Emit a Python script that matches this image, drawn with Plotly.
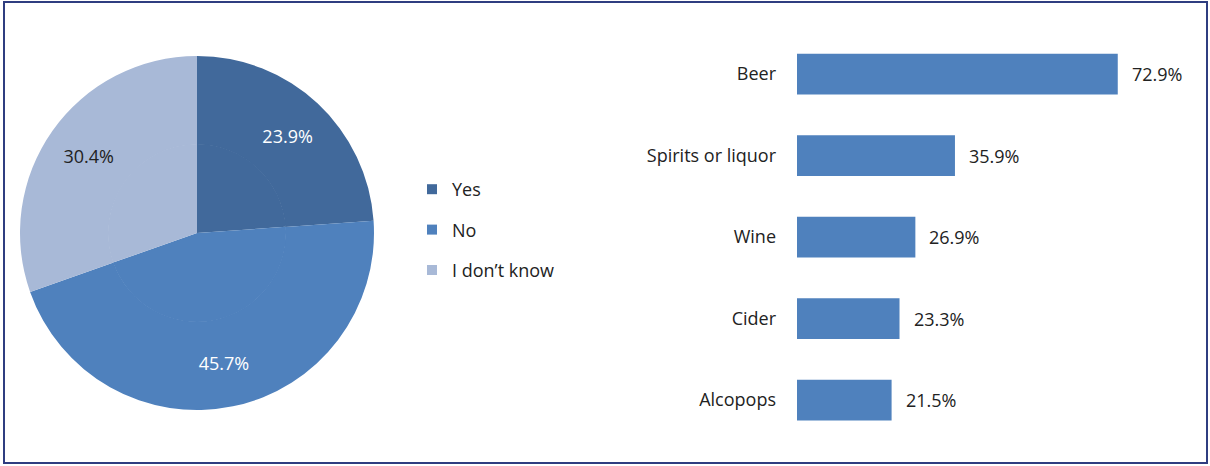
import plotly.graph_objects as go

# Pie data
pie_labels = ["Yes", "No", "I don\u2019t know"]
pie_values = [23.9, 45.7, 30.4]
pie_colors = ["#41699B", "#4F81BD", "#A8B9D7"]
pie_text_colors = ["white", "white", "#222222"]

# Bar data
bar_categories = ["Beer", "Spirits or liquor", "Wine", "Cider", "Alcopops"]
bar_values = [72.9, 35.9, 26.9, 23.3, 21.5]
bar_color = "#4F81BD"

W, H = 1210, 466
FONT = "Open Sans"
FS = 18
TXT = "#222222"

fig = go.Figure()

pie_dom = dict(x=[20 / W, 374 / W], y=[56 / H, 410 / H])
# outer ring carries the labels (placed further out, like the original)
fig.add_trace(go.Pie(
    labels=pie_labels, values=pie_values, sort=False,
    direction="clockwise", rotation=0, hole=0.5,
    marker=dict(colors=pie_colors, line=dict(width=0)),
    texttemplate="%{value:.1f}%", textposition="inside",
    insidetextorientation="horizontal",
    textfont=dict(family=FONT, size=FS, color=pie_text_colors),
    domain=pie_dom, showlegend=False, hoverinfo="label+value",
))
# inner disc fills the hole with the same slices
fig.add_trace(go.Pie(
    labels=pie_labels, values=pie_values, sort=False,
    direction="clockwise", rotation=0,
    marker=dict(colors=pie_colors, line=dict(width=0)),
    textinfo="none", hoverinfo="label+value",
    domain=dict(x=[(197 - 89) / W, (197 + 89) / W], y=[(233 - 89) / H, (233 + 89) / H]),
    showlegend=False,
))

# legend entries (one per pie slice)
for lab, col in zip(pie_labels, pie_colors):
    fig.add_trace(go.Scatter(
        x=[None], y=[None], mode="markers",
        marker=dict(symbol="square", size=10, color=col),
        name=lab, legendgroup=lab, showlegend=True,
        xaxis="x2", yaxis="y2", hoverinfo="skip",
    ))

fig.add_trace(go.Bar(
    x=bar_values, y=bar_categories, orientation="h",
    marker=dict(color=bar_color, line=dict(width=0)),
    showlegend=False, hoverinfo="x+y",
))

for cat, val in zip(bar_categories, bar_values):
    fig.add_annotation(
        x=val, y=cat, xref="x", yref="y",
        text=f"{val:.1f}%", showarrow=False,
        xanchor="left", xshift=12,
        font=dict(family=FONT, size=FS, color=TXT),
    )

fig.update_layout(
    width=W, height=H,
    margin=dict(l=0, r=0, t=0, b=0),
    paper_bgcolor="white", plot_bgcolor="white",
    font=dict(family=FONT, size=FS, color=TXT),
    bargap=0.5,
    xaxis=dict(domain=[797 / W, 1193 / W], range=[0, 90], visible=False,
               fixedrange=True, automargin=False),
    yaxis=dict(domain=[25.25 / H, 432.75 / H], type="category", autorange="reversed",
               showline=False, showgrid=False, ticks="", ticklabelstandoff=20,
               automargin=False, tickfont=dict(family=FONT, size=FS, color=TXT)),
    xaxis2=dict(domain=[0, 0.01], visible=False, automargin=False, anchor="y2"),
    yaxis2=dict(domain=[0, 0.01], visible=False, automargin=False, anchor="x2"),
    legend=dict(x=412 / W, y=1 - 171 / H, xanchor="left", yanchor="top",
                font=dict(family=FONT, size=FS, color=TXT),
                tracegroupgap=14, itemwidth=30, bgcolor="rgba(0,0,0,0)"),
    shapes=[dict(type="rect", xref="paper", yref="paper",
                 x0=4 / W, x1=1207 / W, y0=1 - 463 / H, y1=1 - 2 / H,
                 line=dict(color="#2F3D80", width=2), fillcolor="rgba(0,0,0,0)")],
)

fig.write_html("out.html",
               config={"displayModeBar": False},
               post_script="document.body.style.margin='0';document.body.style.overflow='hidden';")
